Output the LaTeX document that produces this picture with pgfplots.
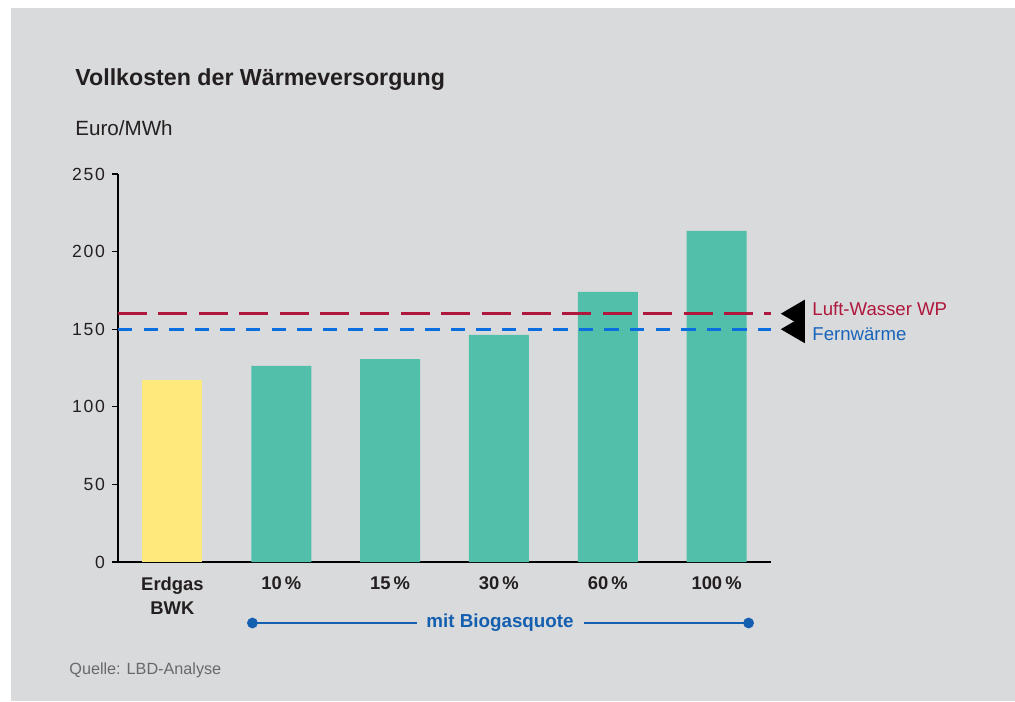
\documentclass[border=0pt]{standalone}
\usepackage{fontspec}
\setmainfont{Liberation Sans}
\usepackage{pgfplots}
\pgfplotsset{compat=1.18}
\definecolor{bg}{RGB}{217,218,220}
\definecolor{barGreen}{RGB}{82,191,171}
\definecolor{barYellow}{RGB}{255,233,125}
\definecolor{lwRed}{RGB}{176,23,60}
\definecolor{fwBlue}{RGB}{10,110,225}
\definecolor{fwText}{RGB}{24,100,186}
\definecolor{bioBlue}{RGB}{20,95,175}
\definecolor{txt}{RGB}{35,31,32}
\definecolor{src}{RGB}{105,105,108}
\begin{document}
\begin{tikzpicture}
\fill[white] (0,0) rectangle (507.5pt,-350.5pt);
\fill[bg] (5.5pt,-4pt) rectangle (507.5pt,-350.5pt);
\node[anchor=base west, font=\bfseries\fontsize{11.6}{13}\selectfont, text=txt, inner sep=0] at (37.5pt,-43pt) {Vollkosten der Wärmeversorgung};
\node[anchor=base west, font=\fontsize{10.3}{12}\selectfont, text=txt, inner sep=0] at (37.5pt,-67.5pt) {Euro/MWh};
\node[anchor=base west, font=\fontsize{8.1}{9}\selectfont, text=src, inner sep=0] at (34.5pt,-337pt) {Quelle: LBD-Analyse};
\node[anchor=base west, font=\fontsize{9.3}{11}\selectfont, text=lwRed, inner sep=0] at (406pt,-157.5pt) {Luft-Wasser WP};
\node[anchor=base west, font=\fontsize{9.3}{11}\selectfont, text=fwText, inner sep=0] at (406pt,-170pt) {Fernwärme};
\begin{axis}[
  at={(59pt,-281pt)}, anchor=south west,
  scale only axis, width=326.5pt, height=194pt,
  xmin=-0.5, xmax=5.5, ymin=0, ymax=250,
  axis x line=bottom, axis y line=left,
  axis line style={-, line width=0.6pt, color=black},
  ytick={0,50,...,250},
  xtick={0,...,5},
  xticklabels={{Erdgas\\BWK},10\,\%,15\,\%,30\,\%,60\,\%,100\,\%},
  x tick style={draw=none},
  y tick style={line width=0.6pt, black},
  tick align=outside, major tick length=3pt,
  yticklabel style={font=\fontsize{8.8}{10}\selectfont\addfontfeature{LetterSpace=10}, text=txt},
  xticklabel style={font=\bfseries\fontsize{9.2}{12}\selectfont, text=txt, align=center, yshift=-0.8pt},
  /pgf/number format/assume math mode=true,
  clip=false,
]
\addplot[ybar, bar width=30pt, bar shift=0pt, fill=barYellow, draw=none] coordinates {(0,117)};
\addplot[ybar, bar width=30pt, bar shift=0pt, fill=barGreen, draw=none] coordinates {(1,126.3) (2,130.8) (3,146.3) (4,174) (5,213.3)};
\addplot[sharp plot, lwRed, line width=1.5pt, dash pattern=on 14.5pt off 5.7pt] coordinates {(-0.5,160) (5.5,160)};
\addplot[sharp plot, fwBlue, line width=1.5pt, dash pattern=on 7.2pt off 5.6pt] coordinates {(-0.5,150) (5.5,150)};
\fill[black] (axis cs:5.59,160) -- ++(12pt,7pt) -- ++(0pt,-14pt) -- cycle;
\fill[black] (axis cs:5.59,150) -- ++(12pt,7pt) -- ++(0pt,-14pt) -- cycle;
\draw[bioBlue, line width=1pt] (axis cs:0.735,-39.3) -- (axis cs:2.245,-39.3);
\draw[bioBlue, line width=1pt] (axis cs:3.78,-39.3) -- (axis cs:5.294,-39.3);
\fill[bioBlue] (axis cs:0.735,-39.3) circle[radius=2.7pt];
\fill[bioBlue] (axis cs:5.294,-39.3) circle[radius=2.7pt];
\node[font=\bfseries\fontsize{9.4}{11}\selectfont, text=bioBlue, inner sep=0] at (axis cs:3.01,-39.3) {mit Biogasquote};
\end{axis}
\pgfresetboundingbox
\useasboundingbox (0,0) rectangle (507.5pt,-350.5pt);
\end{tikzpicture}
\end{document}
